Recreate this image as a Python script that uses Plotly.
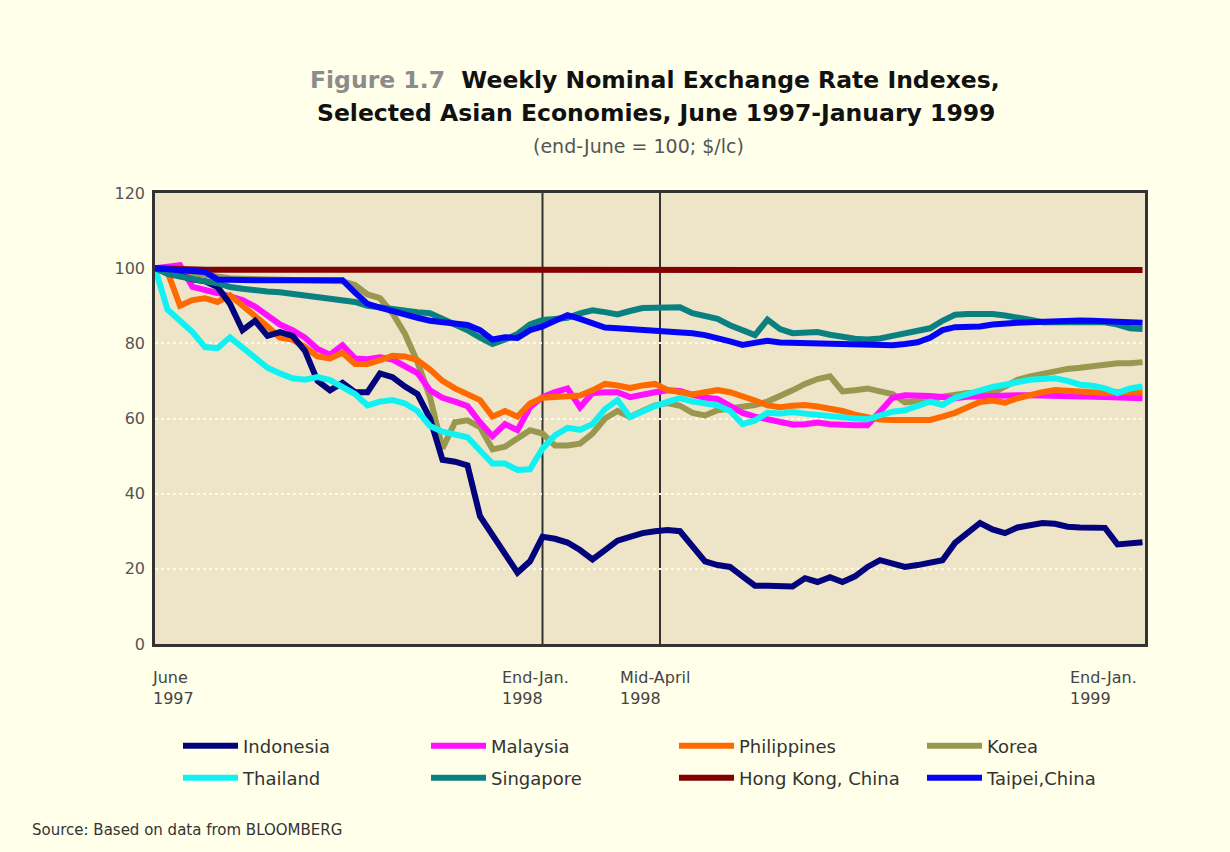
import plotly.graph_objects as go

# ---------------- data (weekly index, end-June 1997 = 100) ----------------
weeks = list(range(80))

indonesia = [100, 99.5, 98, 97, 96.5, 95, 90.5, 83.5, 86, 82, 83, 82, 78, 70, 67.5, 69.5,
             67, 67, 72, 71, 68.5, 66.5, 60, 49, 48.5, 47.5, 34, 29, 24, 19,
             22, 28.5, 28, 27, 25, 22.5, 25, 27.5, 28.5, 29.5, 30, 30.3, 30, 26, 22, 21,
             20.5, 18, 15.5, 15.5, 15.5, 15.3, 17.5, 16.5, 17.8, 16.5, 18, 20.5, 22.3, 21.5,
             20.5, 21, 21.5, 22.3, 26.9, 29.5, 32.2, 30.5, 29.5, 31, 31.7, 32.2, 32, 31.2,
             31, 31, 30.9, 26.5, 26.8, 27.1]
malaysia = [100, 100.5, 100.8, 95, 94, 93.4, 92.5, 91.5, 89.8, 87.5, 85, 83.5, 81.5, 78.5,
            77, 79.5, 76, 75.8, 76.3, 75.7, 74, 72.1, 67.5, 65.5, 64.5, 63.3, 59, 55.3, 58.5,
            56.9, 63, 65.7, 67, 68, 63, 66.8, 67, 67, 65.7, 66.5, 67, 67.5, 67.3, 66.3, 65.5,
            65.2, 63.5, 61.5, 60.5, 59.9, 59.2, 58.4, 58.5, 58.9, 58.5, 58.2, 58.2, 58.2, 62,
            65.5, 66.2, 66.2, 66, 65.7, 65.4, 65.8, 66, 66, 66.2, 66.2, 66.2, 66.2, 66.2, 66,
            66, 65.8, 65.7, 65.6, 65.4, 65.4]
philippines = [100, 99, 90, 91.5, 92, 91, 92.8, 90, 87.7, 84.5, 81.5, 81, 79, 76.5, 76, 77.5,
               74.5, 74.5, 75.5, 76.7, 76.5, 75.5, 73, 70, 68, 66.3, 64.9, 60.5, 62, 60.5, 64,
               65.5, 65.7, 65.8, 66.1, 67.5, 69.2, 68.8, 68.1, 68.8, 69.2, 67.6, 66.8, 66.4, 67,
               67.6, 67, 66, 64.8, 63.5, 63, 63.4, 63.6, 63.2, 62.8, 62, 61, 60.2, 59.7, 59.6,
               59.6, 59.6, 59.6, 60.5, 61.5, 63, 64.4, 64.8, 64.2, 65.4, 66.3, 67, 67.6, 67.4,
               67.1, 67, 66.8, 67, 67, 67]
korea = [100, 99.5, 99, 98.5, 98, 97.5, 97.3, 97.2, 97.1, 97, 97, 96.9, 96.8, 96.8, 96.7,
         96.5, 95.5, 93, 92, 88, 82.5, 75, 65.7, 52, 59, 59.5, 57.7, 51.8, 52.5, 54.5, 56.9,
         56, 52.8, 52.8, 53.3, 56, 60, 62, 60.4, 62, 63.5, 64.1, 63.4, 61.5, 60.8, 62.2, 62.7,
         63, 63.6, 64.5, 65.9, 67.5, 69.2, 70.5, 71.2, 67.2, 67.5, 68, 67.2, 66.5, 64.3, 64.5,
         65, 65.8, 66.3, 66.8, 66.8, 66.8, 68.5, 70.3, 71.2, 72, 72.6, 73.2, 73.5, 74, 74.5,
         74.7, 74.7, 75]
thailand = [100, 89, 86, 83, 79, 78.7, 81.6, 79, 76, 73.5, 72, 70.7, 70.3, 71, 70.2, 68.5,
            66.5, 63.5, 64.5, 64.9, 64, 62, 58, 56.5, 55.8, 55, 51.5, 48, 48, 46.3, 46.5, 52,
            55.5, 57.5, 57, 58.5, 62.5, 64.9, 60.4, 62, 63.3, 64.4, 65.4, 64.5, 64.1, 63.5, 62,
            58.5, 59.5, 61.5, 61.3, 61.7, 61.3, 60.9, 60.6, 60.4, 60, 59.8, 61, 61.8, 62.2, 63.5,
            64.5, 63.6, 65.5, 66.5, 67.5, 68.4, 69, 69.8, 70.3, 70.5, 70.7, 70, 69, 68.7, 68,
            66.8, 68, 68.5]
singapore = [100, 98.5, 97.8, 97, 96.5, 96, 95, 94.5, 94, 93.8, 93.6, 93.2, 92.7, 92.3, 92,
             91.5, 91, 90, 89.5, 89, 88.7, 88.3, 88, 86.5, 85, 83.5, 81.5, 79.8, 81, 82.5, 85,
             86.2, 86.5, 86.8, 88, 88.8, 88.3, 87.7, 88.6, 89.4, 89.5, 89.6, 89.6, 88, 87.3,
             86.5, 84.8, 83.3, 82.2, 86.3, 83.8, 82.7, 82.8, 83, 82.3, 81.6, 81.2, 81, 81.3, 82,
             82.7, 83.3, 84, 86, 87.6, 87.8, 88, 87.8, 87.4, 87, 86.3, 85.6, 85.6, 85.6, 85.6,
             85.6, 85.6, 85, 84, 83.8]
hong_kong = [100, 99.8, 99.7, 99.6, 99.6, 99.6, 99.7, 99.6, 99.6, 99.6, 99.6, 99.7, 99.6,
             99.6, 99.6, 99.5, 99.6, 99.6, 99.6, 99.6, 99.5, 99.6, 99.6, 99.5, 99.5, 99.6,
             99.6, 99.5, 99.5, 99.5, 99.6, 99.6, 99.5, 99.6, 99.6, 99.6, 99.5, 99.6, 99.6,
             99.6, 99.6, 99.5, 99.6, 99.6, 99.6, 99.6, 99.5, 99.6, 99.6, 99.6, 99.5, 99.6,
             99.6, 99.6, 99.6, 99.5, 99.6, 99.6, 99.6, 99.6, 99.6, 99.5, 99.6, 99.6, 99.6,
             99.6, 99.6, 99.5, 99.6, 99.6, 99.6, 99.6, 99.5, 99.6, 99.6, 99.6, 99.5, 99.5,
             99.5, 99.5]
taipei = [100, 99.8, 99.6, 99.4, 99, 97, 96.8, 96.8, 96.8, 96.8, 96.8, 96.8, 96.8, 96.8,
          96.8, 96.8, 93.5, 90.5, 89.5, 88.5, 87.5, 86.8, 86, 85.5, 85.2, 84.9, 83.5, 81, 81.6,
          81.4, 83.5, 84.5, 86, 87.5, 86.5, 85.2, 84.2, 84, 83.8, 83.7, 83.6, 83.4, 83.1, 82.7,
          82.2, 81.5, 80.5, 79.6, 80.2, 80.7, 80.2, 80.1, 80.1, 80.1, 80, 80, 79.8, 79.6, 79.5,
          79.5, 79.8, 80.3, 81.5, 83.5, 84.3, 84.3, 84.5, 85, 85.4, 85.5, 85.6, 85.8, 86, 86.2,
          86.1, 86, 85.8, 85.6, 85.5, 85.5]

# Event markers (week index) and x-axis labels
event_weeks = [31, 40.4]
x_labels = ["June<br>1997", "End-Jan.<br>1998", "Mid-April<br>1998", "End-Jan.<br>1999"]
x_label_pos = [-0.4, 27.6, 37.0, 73.0]
y_ticks = [0, 20, 40, 60, 80, 100, 120]
X_MAX = 79.2

# name, values, colour, legend (row), legend rank
series = [
    ("Korea", korea, "#9a9850", "legend", 4),
    ("Malaysia", malaysia, "#ff10ff", "legend", 2),
    ("Philippines", philippines, "#ff6a00", "legend", 3),
    ("Indonesia", indonesia, "#03037c", "legend", 1),
    ("Thailand", thailand, "#10f2f2", "legend2", 5),
    ("Singapore", singapore, "#0a8080", "legend2", 6),
    ("Hong Kong, China", hong_kong, "#820000", "legend2", 7),
    ("Taipei,China", taipei, "#0505f5", "legend2", 8),
]

FONT = "DejaVu Sans"

fig = go.Figure()
for name, vals, col, leg, rank in series:
    fig.add_trace(go.Scatter(
        x=weeks, y=vals, mode="lines", name=name, legend=leg, legendrank=rank,
        line=dict(color=col, width=6),
    ))

for w in event_weeks:
    fig.add_shape(type="line", xref="x", yref="y", x0=w, x1=w, y0=0, y1=120,
                  line=dict(color="#333333", width=2), layer="below")

PL, PT, PW, PH = 155, 193, 990, 451


def px(xp):
    return (xp - PL) / PW


def py(yp):
    return (PT + PH - yp) / PH


annotations = []
annotations.append(dict(
    text="<b><span style='color:#8c8c8c'>Figure 1.7</span>  Weekly Nominal Exchange Rate Indexes,</b>",
    xref="paper", yref="paper", x=px(655), y=py(80),
    xanchor="center", yanchor="middle", showarrow=False,
    font=dict(family=FONT, size=23.5, color="#111111")))
annotations.append(dict(
    text="<b>Selected Asian Economies, June 1997-January 1999</b>",
    xref="paper", yref="paper", x=px(656), y=py(113),
    xanchor="center", yanchor="middle", showarrow=False,
    font=dict(family=FONT, size=23.5, color="#111111")))
annotations.append(dict(
    text="(end-June = 100; $/lc)",
    xref="paper", yref="paper", x=px(638), y=py(146),
    xanchor="center", yanchor="middle", showarrow=False,
    font=dict(family=FONT, size=19, color="#555555")))
for lab, pos in zip(x_labels, x_label_pos):
    annotations.append(dict(
        text=lab, xref="paper", yref="paper", x=pos / X_MAX, y=py(666),
        xanchor="left", yanchor="top", align="left", showarrow=False,
        font=dict(family=FONT, size=16, color="#444444")))
annotations.append(dict(
    text="Source: Based on data from BLOOMBERG",
    xref="paper", yref="paper", x=px(30), y=py(830),
    xanchor="left", yanchor="middle", showarrow=False,
    font=dict(family=FONT, size=15, color="#333333")))

leg_common = dict(
    orientation="h", x=px(178), xanchor="left", yanchor="middle",
    entrywidth=178, entrywidthmode="pixels", itemwidth=55,
    font=dict(family=FONT, size=18, color="#333333"),
    bgcolor="rgba(0,0,0,0)",
)

fig.update_layout(
    width=1230, height=852,
    paper_bgcolor="#ffffea",
    plot_bgcolor="#eee4c8",
    margin=dict(l=PL, r=1230 - PL - PW, t=PT, b=852 - PT - PH, autoexpand=False),
    showlegend=True,
    legend=dict(y=py(746), **leg_common),
    legend2=dict(y=py(778), **leg_common),
    annotations=annotations,
    xaxis=dict(range=[0, X_MAX], showticklabels=False, showgrid=False, zeroline=False,
               showline=True, linecolor="#333333", linewidth=2.5, mirror=True, ticks=""),
    yaxis=dict(range=[0, 120], tickvals=y_ticks, showgrid=True,
               gridcolor="#fbfaf0", griddash="dot", gridwidth=2, zeroline=False,
               showline=True, linecolor="#333333", linewidth=2.5, mirror=True, ticks="",
               ticklabelstandoff=4,
               tickfont=dict(family=FONT, size=16, color="#555555")),
)

fig.write_html("out.html", config={"displayModeBar": False},
               post_script="document.body.style.margin='0';"
                           "document.body.style.background='#ffffea';")
